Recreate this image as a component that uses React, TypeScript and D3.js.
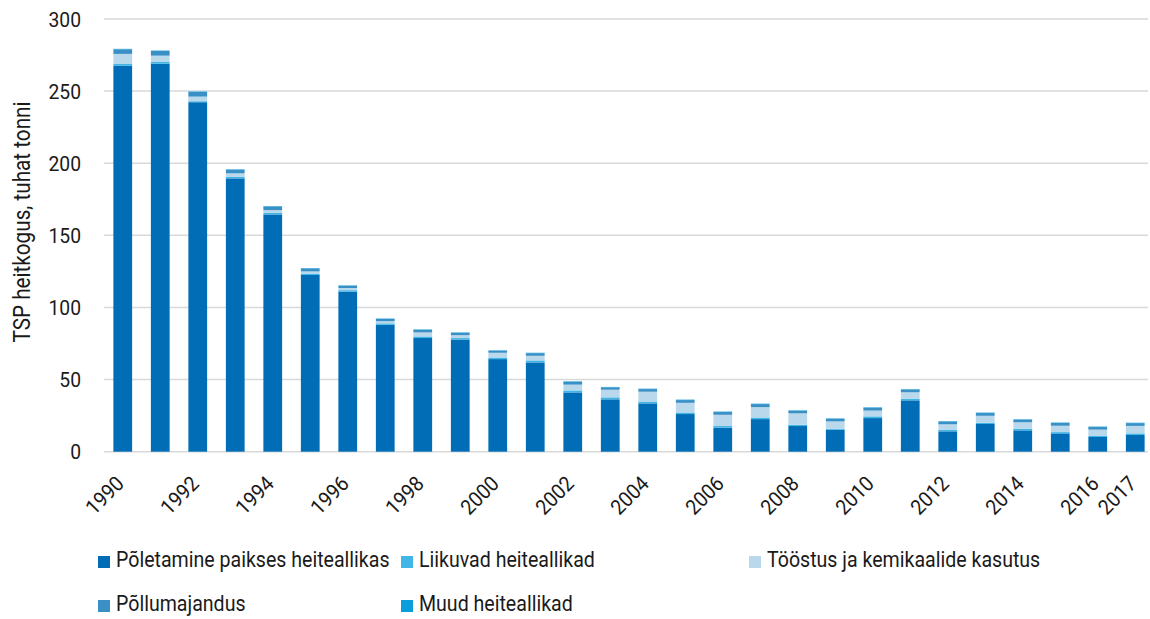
import React from "react";
import * as d3 from "d3";

const years = d3.range(1990, 2018).map(String);

// thousand tonnes
const poletamine = [267.7, 269, 242.3, 189.5, 164.5, 122.5, 111, 88, 78.8, 77.8, 64.2, 61.9, 41.1, 36.3, 33.5, 26.1, 16.6, 22.6, 17.8, 15.2, 23.3, 35.6, 14.1, 19.2, 14.8, 12.7, 10.2, 11.6];
const liikuvad = [1.4, 1.2, 0.7, 1, 1, 1, 1, 1, 1.1, 1, 1.1, 1.4, 1.4, 1.4, 1.3, 1.1, 1.2, 1.1, 0.9, 0.7, 1.2, 1.2, 1.2, 0.9, 1.2, 0.9, 0.7, 1.1];
const toostus = [6.7, 4.4, 3.2, 2.5, 2, 1.5, 1.5, 1.5, 2.8, 2, 3.3, 3.2, 4, 5.3, 6.8, 6.7, 7.8, 7.2, 7.9, 5.1, 4, 4.4, 3.7, 4.8, 4.4, 4.4, 4.4, 5.2];
const pollumajandus = [3.2, 3.2, 3.2, 2.5, 2.5, 2, 1.5, 1.5, 1.8, 1.6, 1.4, 1.8, 2, 1.6, 1.8, 1.9, 1.9, 2.1, 1.8, 1.8, 2, 1.9, 1.9, 1.9, 1.8, 1.9, 1.8, 1.9];
const muud = [0.3, 0.3, 0.3, 0.3, 0.3, 0.3, 0.3, 0.3, 0.3, 0.3, 0.3, 0.3, 0.3, 0.3, 0.3, 0.3, 0.3, 0.3, 0.3, 0.3, 0.3, 0.3, 0.3, 0.3, 0.3, 0.3, 0.3, 0.3];

const seriesNames = ["Põletamine paikses heiteallikas", "Liikuvad heiteallikad", "Tööstus ja kemikaalide kasutus", "Põllumajandus", "Muud heiteallikad"];
const seriesValues = [poletamine, liikuvad, toostus, pollumajandus, muud];
const colors = ["#006db6", "#41b6e6", "#b9d8eb", "#3a8fc5", "#0a9fdc"];
const yTicks = [0, 50, 100, 150, 200, 250, 300];
const xLabels = ["1990", "1992", "1994", "1996", "1998", "2000", "2002", "2004", "2006", "2008", "2010", "2012", "2014", "2016", "2017"];

const font = "Roboto, 'Liberation Sans', sans-serif";

export default function App() {
  const width = 1150;
  const height = 619;

  const x = d3.scaleBand().domain(years).range([104, 1154]).paddingInner(0.5).paddingOuter(0.25);
  const y = d3.scaleLinear().domain([0, 300]).range([451.7, 19]);

  const rows = years.map((yr, i) => {
    const r: any = { year: yr };
    seriesNames.forEach((s, k) => (r[s] = seriesValues[k][i]));
    return r;
  });
  const stacked = d3.stack().keys(seriesNames)(rows);

  // legend layout
  const legendPos = [
    { x: 98, y: 556 },
    { x: 401, y: 556 },
    { x: 749, y: 556 },
    { x: 98, y: 600 },
    { x: 401, y: 600 },
  ];

  return (
    <svg width={width} height={height} style={{ position: "absolute", left: 0, top: 0, background: "#fff" }} fontFamily={font}>
      {/* gridlines */}
      {yTicks.map(t => (
        <line key={t} x1={104} x2={1148} y1={y(t)} y2={y(t)} stroke="#d9d9d9" strokeWidth={1.5} />
      ))}
      {yTicks.map(t => (
        <text key={"l" + t} transform={`translate(81,${y(t)}) scale(0.92,1)`} dy="0.36em" textAnchor="end" fontSize={21} fill="#1a1a1a">
          {t}
        </text>
      ))}
      <text transform="translate(30,222) rotate(-90) scale(0.9,1)" textAnchor="middle" fontSize={23} fill="#1a1a1a">
        TSP heitkogus, tuhat tonni
      </text>

      {/* bars */}
      {stacked.map((layer, k) => (
        <g key={layer.key} fill={colors[k]}>
          {layer.map((d, i) => (
            <rect key={i} x={x(years[i])} width={x.bandwidth()} y={y(d[1])} height={Math.max(0, y(d[0]) - y(d[1]))} />
          ))}
        </g>
      ))}

      {/* x labels */}
      {xLabels.map(l => {
        const cx = (x(l) as number) + x.bandwidth() / 2;
        return (
          <text key={l} transform={`translate(${cx + 2.5},${485}) rotate(-45) scale(0.93,1)`} textAnchor="end" fontSize={21} fill="#1a1a1a">
            {l}
          </text>
        );
      })}

      {/* legend */}
      {seriesNames.map((s, k) => (
        <g key={s} transform={`translate(${legendPos[k].x},${legendPos[k].y})`}>
          <rect width={12} height={12} fill={colors[k]} />
          <text transform="translate(18,11) scale(0.89,1)" fontSize={22} fill="#1a1a1a">
            {s}
          </text>
        </g>
      ))}
    </svg>
  );
}
